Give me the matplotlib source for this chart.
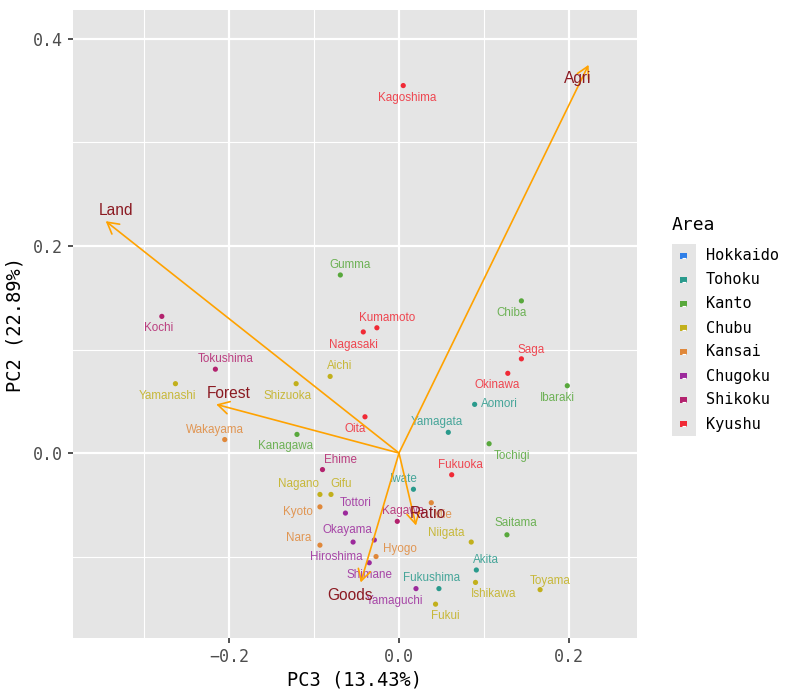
import matplotlib.pyplot as plt
import numpy as np

# prefecture scores (PC3, PC2)
prefs = ["Kagoshima", "Gumma", "Kochi", "Kumamoto", "Nagasaki", "Tokushima",
         "Yamanashi", "Shizuoka", "Aichi", "Wakayama", "Kanagawa", "Oita",
         "Chiba", "Saga", "Okinawa", "Ibaraki", "Aomori", "Yamagata", "Tochigi",
         "Ehime", "Fukuoka", "Iwate", "Nagano", "Gifu", "Tottori", "Kyoto",
         "Mie", "Kagawa", "Niigata", "Saitama", "Nara", "Okayama", "Hyogo",
         "Hiroshima", "Shimane", "Akita", "Fukushima", "Toyama", "Yamaguchi",
         "Ishikawa", "Fukui"]
pc3 = [0.005, -0.069, -0.279, -0.026, -0.042, -0.216,
       -0.263, -0.121, -0.081, -0.205, -0.120, -0.040,
       0.144, 0.144, 0.128, 0.198, 0.089, 0.058, 0.106,
       -0.090, 0.062, 0.017, -0.093, -0.080, -0.063, -0.093,
       0.038, -0.002, 0.085, 0.127, -0.093, -0.054, -0.027,
       -0.029, -0.035, 0.091, 0.047, 0.166, 0.020,
       0.090, 0.043]
pc2 = [0.355, 0.172, 0.132, 0.121, 0.117, 0.081,
       0.067, 0.067, 0.074, 0.013, 0.018, 0.035,
       0.147, 0.091, 0.077, 0.065, 0.047, 0.020, 0.009,
       -0.016, -0.021, -0.035, -0.040, -0.040, -0.058, -0.052,
       -0.048, -0.066, -0.086, -0.079, -0.089, -0.086, -0.100,
       -0.084, -0.106, -0.113, -0.131, -0.132, -0.131,
       -0.125, -0.146]
area = ["Kyushu", "Kanto", "Shikoku", "Kyushu", "Kyushu", "Shikoku",
        "Chubu", "Chubu", "Chubu", "Kansai", "Kanto", "Kyushu",
        "Kanto", "Kyushu", "Kyushu", "Kanto", "Tohoku", "Tohoku", "Kanto",
        "Shikoku", "Kyushu", "Tohoku", "Chubu", "Chubu", "Chugoku", "Kansai",
        "Kansai", "Shikoku", "Chubu", "Kanto", "Kansai", "Chugoku", "Kansai",
        "Chugoku", "Chugoku", "Tohoku", "Tohoku", "Chubu", "Chugoku",
        "Chubu", "Chubu"]

# variable loadings
var_names = ["Agri", "Land", "Forest", "Ratio", "Goods"]
var_x = [0.223, -0.345, -0.215, 0.020, -0.045]
var_y = [0.375, 0.224, 0.047, -0.070, -0.125]

areas = ["Hokkaido", "Tohoku", "Kanto", "Chubu", "Kansai", "Chugoku", "Shikoku", "Kyushu"]
area_colors = ["#2F7FE8", "#2A9A8C", "#58A83C", "#C2B01C",
               "#E0883A", "#9C2A9C", "#B3226E", "#F02A36"]

# label offsets in pixels (dx right, dy down), placed like ggrepel did
label_off = [(4, 12), (10, -10), (-3, 12), (10, -10), (-10, 13), (10, -10),
             (-8, 12), (-9, 12), (10, -10), (-10, -10), (-11, 12), (-10, 12),
             (-10, 12), (10, -9), (-11, 12), (-10, 12), (25, 0), (-11, -10), (23, 12),
             (18, -10), (9, -10), (-10, -10), (-21, -10), (10, -10), (10, -10), (-22, 5),
             (11, 12), (6, -10), (-25, -9), (9, -12), (-21, -7), (-6, -12), (24, -8),
             (-38, 17), (0, 12), (10, -10), (-7, -11), (10, -9), (-22, 12),
             (18, 12), (10, 12)]
var_off = [(-11, 14), (10, -11), (12, -11), (12, -12), (-11, 13)]

cmap = dict(zip(areas, area_colors))
mono = "DejaVu Sans Mono"

fig = plt.figure(figsize=(8, 7), dpi=100)
ax = fig.add_axes([73 / 800, 62 / 700, 564 / 800, 628 / 700])
ax.set_facecolor("#E5E5E5")
for s in ax.spines.values():
    s.set_visible(False)

ax.set_xlim(-0.3835, 0.28)
ax.set_ylim(-0.1787, 0.428)
ax.set_xticks([-0.2, 0.0, 0.2])
ax.set_yticks([0.0, 0.2, 0.4])
ax.set_xticks([-0.3, -0.1, 0.1], minor=True)
ax.set_yticks([-0.1, 0.1, 0.3], minor=True)
ax.grid(which="major", color="white", lw=1.6)
ax.grid(which="minor", color="white", lw=0.8)
ax.set_axisbelow(True)
ax.tick_params(which="major", length=3.5, width=1.2, color="#333333",
               labelsize=12, labelcolor="#4D4D4D", pad=4)
ax.tick_params(which="minor", length=0)
for lab in ax.get_xticklabels() + ax.get_yticklabels():
    lab.set_family(mono)
ax.set_xticklabels(["\u22120.2", "0.0", "0.2"])
ax.set_yticklabels(["0.0", "0.2", "0.4"])
ax.set_xlabel("PC3 (13.43%)", family=mono, fontsize=13.5, labelpad=3)
ax.set_ylabel("PC2 (22.89%)", family=mono, fontsize=13.5, labelpad=6)

cols = [cmap[a] for a in area]
ax.scatter(pc3, pc2, s=14, c=cols, linewidths=0, zorder=3)
for name, x, y, c, (dx, dy) in zip(prefs, pc3, pc2, cols, label_off):
    ax.annotate(name, (x, y), xytext=(dx, -dy), textcoords="offset pixels",
                ha="center", va="center", fontsize=8.4, color=c, alpha=0.85,
                family="Liberation Sans", zorder=4)

for name, x, y, (dx, dy) in zip(var_names, var_x, var_y, var_off):
    ax.annotate("", xy=(x, y), xytext=(0, 0),
                arrowprops=dict(arrowstyle="->,head_length=0.8,head_width=0.45",
                                color="#FFA200", lw=1.2, shrinkA=0, shrinkB=0,
                                mutation_scale=10), zorder=5)
for name, x, y, (dx, dy) in zip(var_names, var_x, var_y, var_off):
    ax.annotate(name, (x, y), xytext=(dx, -dy), textcoords="offset pixels",
                ha="center", va="center", fontsize=11.2, color="#8B1A22",
                family="Liberation Sans", zorder=6)

# legend
fig.text(672 / 800, 1 - 225 / 700, "Area", family=mono, fontsize=13,
         ha="left", va="center")
lax = fig.add_axes([672 / 800, 1 - 436 / 700, 24 / 800, 192 / 700])
lax.set_facecolor("#E5E5E5")
lax.set_xlim(0, 1)
lax.set_ylim(len(areas), 0)
lax.set_xticks([])
lax.set_yticks([])
for s in lax.spines.values():
    s.set_visible(False)
ky = np.arange(len(areas)) + 0.5
lax.scatter(np.full(len(areas), 0.48), ky, s=22, c=area_colors, marker="s", linewidths=0)
lax.scatter(np.full(len(areas), 0.48), ky + 0.1, s=8, c="white", marker="_", linewidths=0.8)
for i, a in enumerate(areas):
    fig.text(706 / 800, 1 - (256 + 24 * i) / 700, a, family=mono, fontsize=11,
             ha="left", va="center")

fig.savefig("out.png", dpi=100)
